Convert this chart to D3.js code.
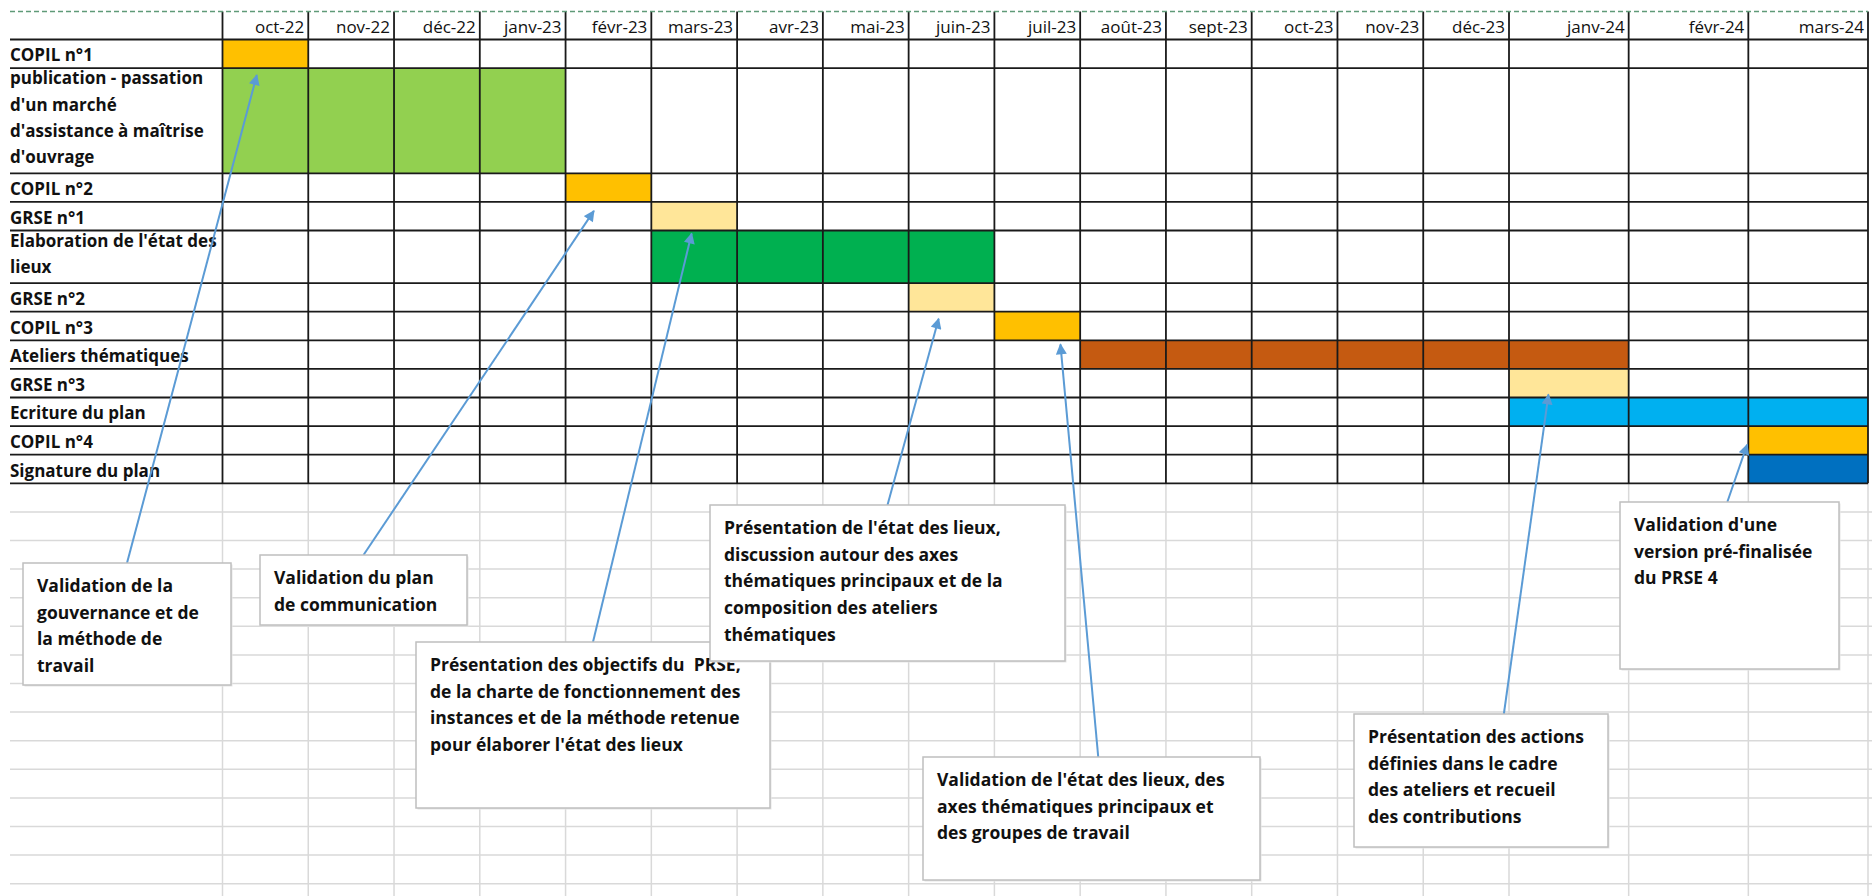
<!DOCTYPE html>
<html>
<head>
<meta charset="utf-8">
<script src="https://cdn.jsdelivr.net/npm/d3@7"></script>
<style>
  body { margin: 0; background: #fff; }
  svg { display: block; font-family: 'Open Sans', sans-serif; }
</style>
</head>
<body>
<div class="container"></div>
<script>
const months = ['oct-22', 'nov-22', 'déc-22', 'janv-23', 'févr-23', 'mars-23', 'avr-23', 'mai-23', 'juin-23',
  'juil-23', 'août-23', 'sept-23', 'oct-23', 'nov-23', 'déc-23', 'janv-24', 'févr-24', 'mars-24'];

const taskLabels = [
  ['COPIL n°1'],
  ['publication - passation', "d'un marché", "d'assistance à maîtrise", "d'ouvrage"],
  ['COPIL n°2'],
  ['GRSE n°1'],
  ["Elaboration de l'état des", 'lieux'],
  ['GRSE n°2'],
  ['COPIL n°3'],
  ['Ateliers thématiques'],
  ['GRSE n°3'],
  ['Ecriture du plan'],
  ['COPIL n°4'],
  ['Signature du plan']
];

// first and last month index of each task
const startMonth = [0, 0, 4, 5, 5, 8, 9, 10, 15, 15, 17, 17];
const endMonth = [0, 3, 4, 5, 8, 8, 9, 15, 15, 17, 17, 17];
const taskColors = ['#FFC000', '#92D050', '#FFC000', '#FFE699', '#00B050', '#FFE699', '#FFC000',
  '#C55A11', '#FFE699', '#00B0F0', '#FFC000', '#0070C0'];

const noteTexts = [
  ['Validation de la', 'gouvernance et de', 'la méthode de', 'travail'],
  ['Validation du plan', 'de communication'],
  ['Présentation des objectifs du  PRSE,', 'de la charte de fonctionnement des', 'instances et de la méthode retenue', "pour élaborer l'état des lieux"],
  ["Présentation de l'état des lieux,", 'discussion autour des axes', 'thématiques principaux et de la', 'composition des ateliers', 'thématiques'],
  ["Validation de l'état des lieux, des", 'axes thématiques principaux et', 'des groupes de travail'],
  ['Présentation des actions', 'définies dans le cadre', 'des ateliers et recueil', 'des contributions'],
  ["Validation d'une", 'version pré-finalisée', 'du PRSE 4']
];
// task each note points at
const noteTask = [0, 2, 3, 5, 6, 8, 10];

// layout of the note boxes (x, y, w, h) and arrow tip offsets
const noteBoxes = [
  [23, 563, 208, 122],
  [260, 555, 207, 70],
  [416, 642, 354, 166],
  [710, 505, 355, 156],
  [923, 757, 337, 123],
  [1354, 714, 254, 133],
  [1620, 502, 219, 167]
];
const noteAnchor = [0.5, 0.5, 0.5, 0.5, 0.52, 0.59, 0.49];
const tipFx = [0.40, 0.33, 0.47, 0.35, 0.77, 0.33, -0.01];
const tipDy = [7, 9, 3, 7, 4, -3, -10];

const W = 1872;
const H = 896;
const left = 10;
const right = 1868;
const headTop = 11.5;
const headBottom = 39.5;
const rowH = 28.6;
const lineH = 26.3;

const svg = d3
  .select('.container')
  .append('svg')
  .attr('width', W)
  .attr('height', H);

svg.append('rect').attr('width', W).attr('height', H).attr('fill', '#fff');

svg.append('defs')
  .append('marker')
  .attr('id', 'head')
  .attr('viewBox', '0 0 10 10')
  .attr('refX', 9)
  .attr('refY', 5)
  .attr('markerWidth', 6)
  .attr('markerHeight', 5.5)
  .attr('markerUnits', 'strokeWidth')
  .attr('orient', 'auto')
  .append('path')
  .attr('d', 'M0,0 L10,5 L0,10 Z')
  .attr('fill', '#5B9BD5');

// last three columns are wider
const x = d3.scaleLinear().domain([0, 15, 18]).range([222.5, 1509, 1868]);

const heights = taskLabels.map(l => Math.max(rowH, l.length * lineH));
const bottoms = Array.from(d3.cumsum(heights), v => v + headBottom);
const tops = bottoms.map((b, i) => b - heights[i]);
const tableBottom = bottoms[bottoms.length - 1];

// empty sheet grid below the table
const sheet = svg.append('g').attr('class', 'sheet');
const sheetRows = d3.range(1, Math.ceil((H - tableBottom) / rowH) + 1).map(k => tableBottom + k * rowH);
sheet.selectAll('line.h')
  .data(sheetRows)
  .enter()
  .append('line')
  .attr('x1', left)
  .attr('x2', W)
  .attr('y1', d => d)
  .attr('y2', d => d)
  .attr('stroke', '#d9d9d9')
  .attr('stroke-width', 1.5);
sheet.selectAll('line.v')
  .data(d3.range(0, months.length + 1))
  .enter()
  .append('line')
  .attr('x1', d => x(d))
  .attr('x2', d => x(d))
  .attr('y1', tableBottom)
  .attr('y2', H)
  .attr('stroke', '#d9d9d9')
  .attr('stroke-width', 1.5);

// bars
const tasks = taskLabels.map((l, i) => ({ i, start: startMonth[i], end: endMonth[i], color: taskColors[i] }));
svg.append('g')
  .selectAll('rect')
  .data(tasks)
  .enter()
  .append('rect')
  .attr('x', d => x(d.start))
  .attr('width', d => x(d.end + 1) - x(d.start))
  .attr('y', d => tops[d.i])
  .attr('height', d => heights[d.i])
  .attr('fill', d => d.color);

// table grid
const grid = svg.append('g').attr('class', 'grid');
grid.selectAll('line.h')
  .data(bottoms.concat([headBottom]))
  .enter()
  .append('line')
  .attr('x1', left)
  .attr('x2', right)
  .attr('y1', d => d)
  .attr('y2', d => d)
  .attr('stroke', '#1a1a1a')
  .attr('stroke-width', 1.8);
grid.selectAll('line.v')
  .data(d3.range(0, months.length + 1))
  .enter()
  .append('line')
  .attr('x1', d => x(d))
  .attr('x2', d => x(d))
  .attr('y1', headTop)
  .attr('y2', tableBottom)
  .attr('stroke', '#1a1a1a')
  .attr('stroke-width', 1.8);

grid.append('line')
  .attr('x1', left)
  .attr('x2', right)
  .attr('y1', headTop)
  .attr('y2', headTop)
  .attr('stroke', '#5f9a78')
  .attr('stroke-width', 1.5)
  .attr('stroke-dasharray', '5,3');

// month labels
svg.append('g')
  .selectAll('text')
  .data(months)
  .enter()
  .append('text')
  .attr('x', (d, i) => x(i + 1) - 4)
  .attr('y', headBottom - 6.5)
  .attr('text-anchor', 'end')
  .attr('font-size', 17)
  .attr('fill', '#111')
  .text(d => d);

// task labels
const labels = svg.append('g')
  .selectAll('text')
  .data(taskLabels)
  .enter()
  .append('text')
  .attr('font-size', 17)
  .attr('font-weight', 700)
  .attr('fill', '#111');
labels.each(function(lines, i) {
  const last = bottoms[i] - (lines.length > 1 ? 10 : 6.8);
  d3.select(this)
    .selectAll('tspan')
    .data(lines)
    .enter()
    .append('tspan')
    .attr('x', left)
    .attr('y', (d, k) => last - (lines.length - 1 - k) * lineH)
    .text(d => d);
});

// notes and arrows
const notes = noteTexts.map((t, i) => {
  const b = noteBoxes[i];
  const ti = noteTask[i];
  const m = startMonth[ti];
  const cw = x(m + 1) - x(m);
  return {
    lines: t,
    box: b,
    from: [b[0] + b[2] * noteAnchor[i], b[1]],
    to: [x(m) + cw * tipFx[i], bottoms[ti] + tipDy[i]]
  };
});

svg.append('g')
  .selectAll('line')
  .data(notes)
  .enter()
  .append('line')
  .attr('x1', d => d.from[0])
  .attr('y1', d => d.from[1])
  .attr('x2', d => d.to[0])
  .attr('y2', d => d.to[1])
  .attr('stroke', '#5B9BD5')
  .attr('stroke-width', 2)
  .attr('marker-end', 'url(#head)');

const boxes = svg.append('g')
  .selectAll('g')
  .data(notes)
  .enter()
  .append('g');

boxes.append('rect')
  .attr('x', d => d.box[0] + 1.5)
  .attr('y', d => d.box[1] + 1.5)
  .attr('width', d => d.box[2])
  .attr('height', d => d.box[3])
  .attr('fill', '#e6e6e6');

boxes.append('rect')
  .attr('x', d => d.box[0])
  .attr('y', d => d.box[1])
  .attr('width', d => d.box[2])
  .attr('height', d => d.box[3])
  .attr('fill', '#fff')
  .attr('stroke', '#bfbfbf')
  .attr('stroke-width', 1.5);

boxes.append('text')
  .attr('font-size', 17.5)
  .attr('font-weight', 700)
  .attr('fill', '#111')
  .selectAll('tspan')
  .data(d => d.lines.map((l, k) => ({ l, k, box: d.box })))
  .enter()
  .append('tspan')
  .attr('x', d => d.box[0] + 14)
  .attr('y', d => d.box[1] + 29 + d.k * 26.7)
  .attr('xml:space', 'preserve')
  .style('white-space', 'pre')
  .text(d => d.l);
</script>
</body>
</html>
